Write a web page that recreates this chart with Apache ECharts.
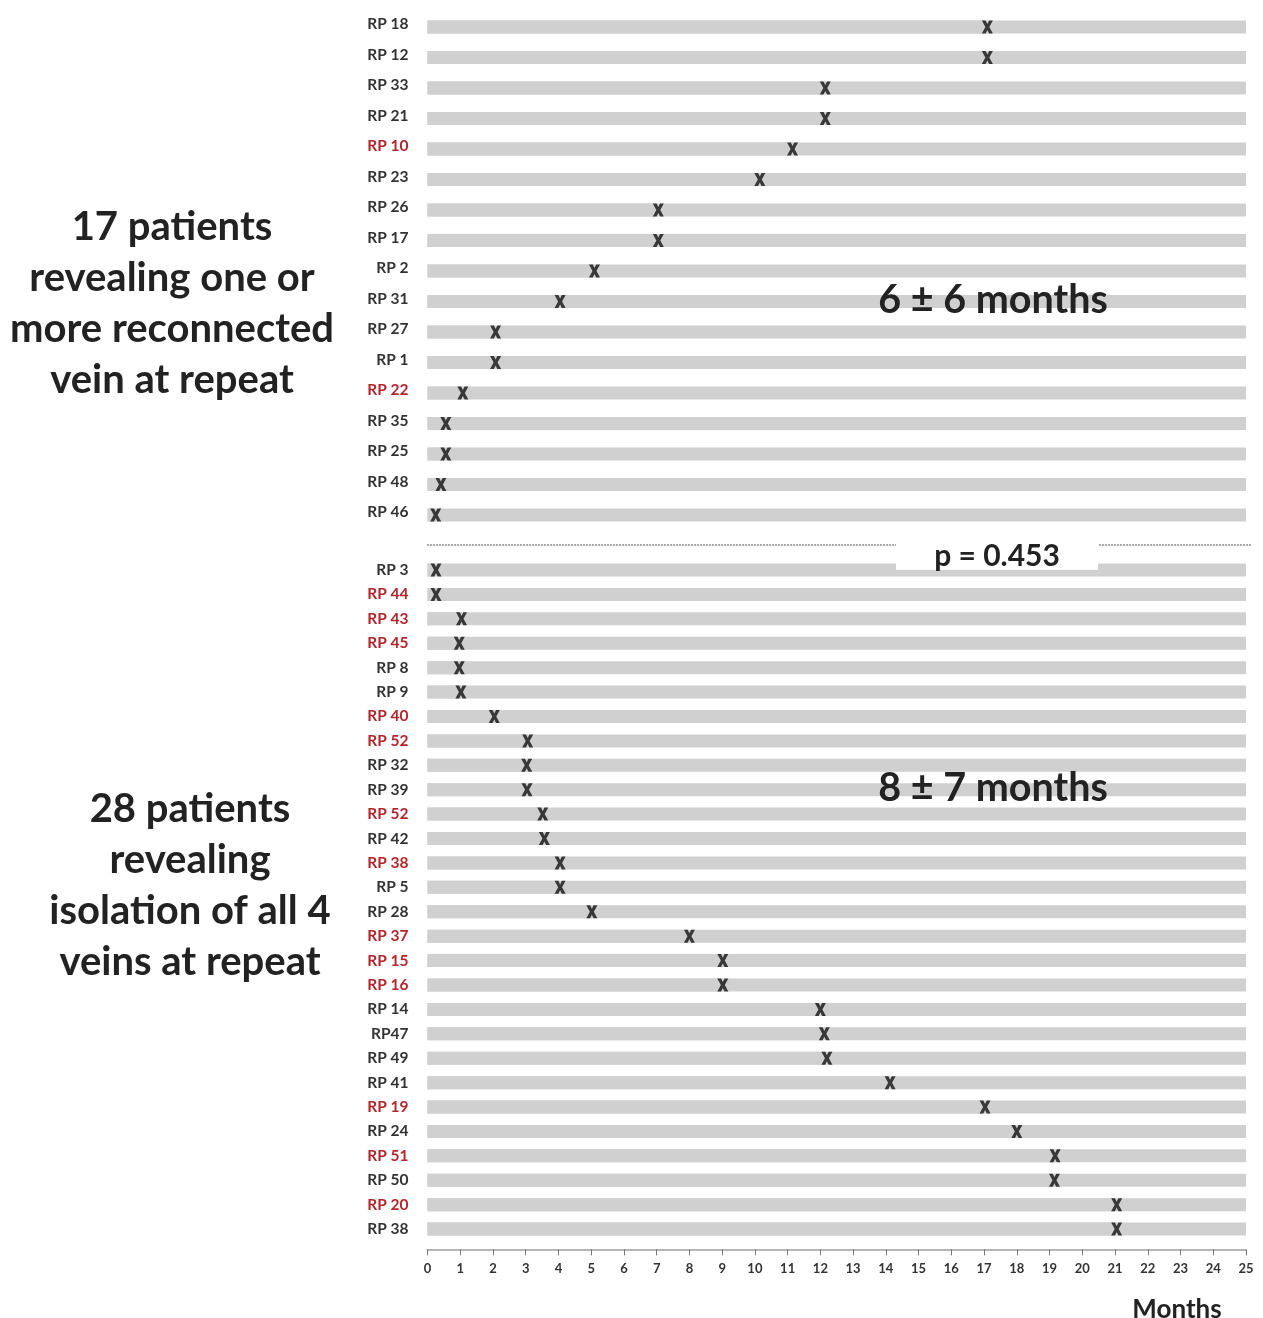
<!DOCTYPE html>
<html><head><meta charset="utf-8">
<script src="https://cdn.jsdelivr.net/npm/echarts@6/dist/echarts.min.js"></script>
<style>html,body{margin:0;padding:0;background:#fff}#c{width:1263px;height:1318px}</style>
</head><body><div id="c"></div>
<script>
// ---- data ----
const topNames = ['RP 18','RP 12','RP 33','RP 21','RP 10','RP 23','RP 26','RP 17','RP 2','RP 31','RP 27','RP 1','RP 22','RP 35','RP 25','RP 48','RP 46'];
const topValues = [17.1,17.1,12.15,12.15,11.15,10.15,7.05,7.05,5.1,4.05,2.08,2.08,1.08,0.56,0.56,0.41,0.25];
const topRed = [0,0,0,0,1,0,0,0,0,0,0,0,1,0,0,0,0];

const bottomNames = ['RP 3','RP 44','RP 43','RP 45','RP 8','RP 9','RP 40','RP 52','RP 32','RP 39','RP 52','RP 42','RP 38','RP 5','RP 28','RP 37','RP 15','RP 16','RP 14','RP47','RP 49','RP 41','RP 19','RP 24','RP 51','RP 50','RP 20','RP 38'];
const bottomValues = [0.26,0.26,1.04,0.97,0.97,1.02,2.04,3.06,3.03,3.04,3.52,3.57,4.05,4.05,5.02,8.0,9.02,9.02,12.0,12.12,12.2,14.13,17.03,18.0,19.17,19.15,21.05,21.05];
const bottomRed = [0,1,1,1,0,0,1,1,0,0,1,0,1,0,0,1,1,1,0,0,0,0,1,0,1,0,1,0];

const monthMin = 0, monthMax = 25, monthStep = 1;

const topTitle = '17 patients\nrevealing one or\nmore reconnected\nvein at repeat';
const bottomTitle = '28 patients\nrevealing\nisolation of all 4\nveins at repeat';
const topStat = '6 \u00b1 6 months';
const bottomStat = '8 \u00b1 7 months';
const pText = 'p = 0.453';
const xTitle = 'Months';

// ---- chart ----
const FONT = 'Lato';
const X_PATH = 'path://M0,0 L3.4,0 L5,3.3 L6.6,0 L10,0 L6.8,6 L10,12 L6.6,12 L5,8.7 L3.4,12 L0,12 L3.2,6 Z';

function yAxisFor(names, red, gridIndex, padBottom) {
  return {
    type: 'category', gridIndex: gridIndex, data: names, inverse: true,
    axisLine: {show: false}, axisTick: {show: false},
    axisLabel: {
      interval: 0, margin: 19,
      formatter: function (v, i) { return (red[i] ? '{r|' : '{k|') + v + '}'; },
      rich: {
        r: {color: '#b3262b', fontFamily: FONT, fontWeight: 'bold', fontSize: 15.5, padding: [0,0,padBottom,0]},
        k: {color: '#333', fontFamily: FONT, fontWeight: 'bold', fontSize: 15.5, padding: [0,0,padBottom,0]}
      }
    }
  };
}

function xAxisFor(gridIndex, show) {
  return {
    type: 'value', gridIndex: gridIndex, min: monthMin, max: monthMax, interval: monthStep,
    show: show, offset: 8,
    splitLine: {show: false},
    axisLine: {show: show, lineStyle: {color: '#b5b5b5', width: 2}},
    axisTick: {show: show, length: 6, lineStyle: {color: '#777', width: 1}},
    axisLabel: {show: show, margin: 13, color: '#333', fontFamily: FONT, fontWeight: 'bold', fontSize: 13}
  };
}

function barSeries(values, idx) {
  return {
    type: 'bar', xAxisIndex: idx, yAxisIndex: idx, data: values, barWidth: 13,
    itemStyle: {color: '#d0d0d0'}, showBackground: true,
    backgroundStyle: {color: '#d0d0d0'}, silent: true, animation: false
  };
}
function markSeries(values, idx) {
  return {
    type: 'scatter', xAxisIndex: idx, yAxisIndex: idx,
    data: values.map(function (v, i) { return [v, i]; }),
    symbol: X_PATH, symbolSize: [11, 13], itemStyle: {color: '#111'},
    silent: true, animation: false, z: 5
  };
}

const chart = echarts.init(document.getElementById('c'), null, {renderer: 'canvas'});
chart.setOption({
  backgroundColor: '#fff',
  animation: false,
  grid: [
    {left: 427.5, right: 17, top: 11.75, height: 518.5},
    {left: 427.5, right: 17, top: 557.8, height: 683.5}
  ],
  xAxis: [xAxisFor(0, false), xAxisFor(1, true)],
  yAxis: [yAxisFor(topNames, topRed, 0, 6), yAxisFor(bottomNames, bottomRed, 1, 0)],
  series: [barSeries(topValues, 0), markSeries(topValues, 0), barSeries(bottomValues, 1), markSeries(bottomValues, 1)],
  graphic: [
    {type: 'text', z: 100, style: {text: topTitle, x: 172, y: 304, align: 'center', verticalAlign: 'middle', font: 'bold 40px ' + FONT, lineHeight: 51, fill: '#222'}},
    {type: 'text', z: 100, style: {text: bottomTitle, x: 190, y: 886, align: 'center', verticalAlign: 'middle', font: 'bold 40px ' + FONT, lineHeight: 51, fill: '#222'}},
    {type: 'text', z: 100, style: {text: topStat, x: 993, y: 300, align: 'center', verticalAlign: 'middle', font: 'bold 39.5px ' + FONT, fill: '#222'}},
    {type: 'text', z: 100, style: {text: bottomStat, x: 993, y: 788, align: 'center', verticalAlign: 'middle', font: 'bold 39.5px ' + FONT, fill: '#222'}},
    {type: 'line', z: 100, shape: {x1: 427, y1: 545, x2: 1252, y2: 545}, style: {stroke: '#555', lineWidth: 1, lineDash: [2, 1]}},
    {type: 'rect', z: 101, shape: {x: 896, y: 538, width: 202, height: 32}, style: {fill: '#fff'}},
    {type: 'text', z: 102, style: {text: pText, x: 997, y: 556, align: 'center', verticalAlign: 'middle', font: 'bold 30px ' + FONT, fill: '#222'}},
    {type: 'text', z: 100, style: {text: xTitle, x: 1177, y: 1310, align: 'center', verticalAlign: 'middle', font: 'bold 26px ' + FONT, fill: '#222'}}
  ]
});
</script>
</body></html>
